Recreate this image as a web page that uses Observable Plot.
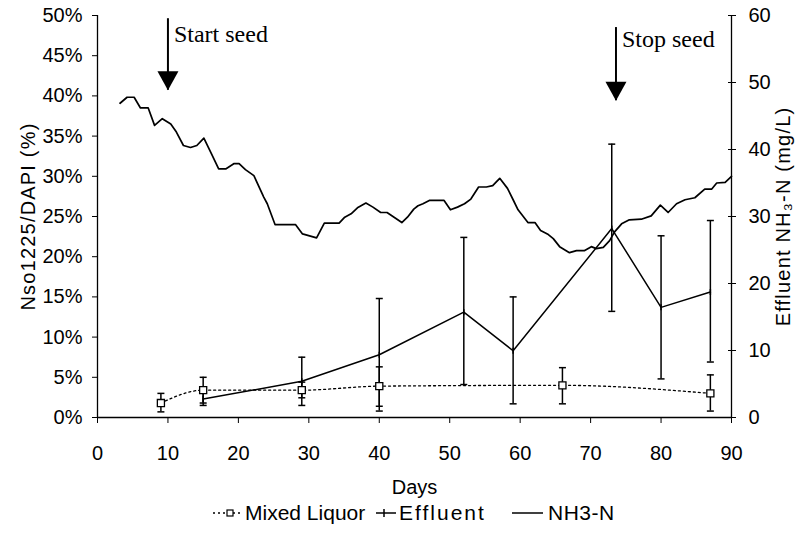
<!DOCTYPE html>
<html><head><meta charset="utf-8">
<script src="https://cdn.jsdelivr.net/npm/d3@7"></script>
<script src="https://cdn.jsdelivr.net/npm/@observablehq/plot@0.6"></script>
<style>
html,body{margin:0;padding:0;background:#fff;overflow:hidden;}
#wrap{position:relative;width:797px;height:534px;}
#legend{position:absolute;top:501px;left:0;width:797px;height:24px;font-family:"Liberation Sans",Arial,sans-serif;font-size:21px;color:#000;}
#legend .item{position:absolute;top:0;height:24px;display:flex;align-items:center;white-space:nowrap;}
</style></head><body><div id="wrap"><div id="chart"></div><div id="legend"></div></div>
<script>
// NH3-N (mg/L, right axis)
const nh3Days = [3.2,4.2,5.2,6.1,7.2,8.1,9.2,10.4,11.2,12.2,13.2,14.1,15.1,16.2,17.2,18.2,19.4,20.1,21.0,22.2,23.6,24.1,25.2,26.3,28.1,29.1,30.1,31.1,32.2,33.2,34.3,35.1,36.0,36.9,38.1,39.1,40.2,41.1,42.1,43.2,44.0,44.9,45.5,46.2,47.1,48.1,49.2,50.1,51.1,52.1,53.0,54.1,55.2,56.1,57.1,58.2,59.0,59.7,61.1,62.1,62.9,64.0,64.7,65.6,67.0,68.0,69.1,70.1,70.8,71.8,72.7,73.4,74.4,75.5,77.2,78.6,79.9,81.0,82.2,83.4,84.8,86.2,87.2,87.9,89.1,90.0];
const nh3Values = [46.9,47.8,47.8,46.2,46.2,43.6,44.6,43.8,42.6,40.6,40.3,40.6,41.7,39.3,37.1,37.1,37.9,37.9,37.0,36.1,32.9,31.9,28.8,28.8,28.8,27.4,27.1,26.8,29.0,29.0,29.0,29.9,30.4,31.3,32.0,31.4,30.6,30.6,29.9,29.1,29.9,31.1,31.6,31.9,32.4,32.4,32.4,31.0,31.4,31.9,32.6,34.4,34.4,34.6,35.7,34.2,32.5,31.0,29.1,29.1,27.9,27.3,26.7,25.5,24.6,24.9,24.9,25.5,25.2,25.4,26.4,27.7,28.9,29.5,29.6,30.1,31.7,30.6,31.9,32.5,32.8,34.1,34.1,35.0,35.1,36.0];
// Effluent Nso1225/DAPI (%)
const effDays = [15,29,40,52,59,73,80,87];
const effValues = [2.3,4.5,7.8,13.1,8.3,23.5,13.7,15.6];
const effLow = [1.5,1.5,0.8,4.1,1.7,13.2,4.8,6.9];
const effHigh = [3.2,7.5,14.8,22.4,15.0,34.0,22.6,24.5];
// Mixed Liquor Nso1225/DAPI (%)
const mlDays = [9,15,29,40,66,87];
const mlValues = [1.8,3.4,3.4,3.9,4.0,3.0];
const mlLow = [0.7,1.8,2.45,1.4,1.7,0.8];
const mlHigh = [3.0,5.0,4.4,6.3,6.2,5.3];
// Annotations (day, arrow top %, arrow tip %, label level %)
const annLabels = ["Start seed","Stop seed"];
const annDays = [10,73.6];
const annTop = [49.6,48.5];
const annTip = [40.7,39.4];
const annLabelAt = [47.6,47.1];
// Ticks
const xTicks = [0,10,20,30,40,50,60,70,80,90];
const leftTicks = [0,5,10,15,20,25,30,35,40,45,50];
const rightTicks = [0,10,20,30,40,50,60];

const k = 50/60; // right axis (mg/L) -> left axis (%)
const nh3 = nh3Days.map((d,i)=>({day:d, y:nh3Values[i]*k}));
const eff = effDays.map((d,i)=>({day:d, v:effValues[i], lo:effLow[i], hi:effHigh[i]}));
const ml = mlDays.map((d,i)=>({day:d, v:mlValues[i], lo:mlLow[i], hi:mlHigh[i]}));
const ann = annDays.map((d,i)=>({day:d, top:annTop[i], tip:annTip[i], at:annLabelAt[i], label:annLabels[i]}));

const cap = {draw(ctx){ctx.moveTo(-3.5,0);ctx.lineTo(3.5,0);}};
const plusMark = {draw(ctx){ctx.moveTo(0,-3);ctx.lineTo(0,3);}};
const head = {draw(ctx){ctx.moveTo(-10.5,-19);ctx.lineTo(10.5,-19);ctx.lineTo(0,0);ctx.closePath();}};

const chart = Plot.plot({
  width: 797, height: 500,
  marginLeft: 97, marginRight: 66, marginTop: 15, marginBottom: 83,
  style: {fontFamily: '"Liberation Sans", Arial, sans-serif', fontSize: "20px", color: "#000", background: "#fff"},
  x: {domain: [0, 90]},
  y: {domain: [0, 50]},
  marks: [
    Plot.axisX({ticks: xTicks, tickSize: 6, tickPadding: 22, label: "Days", labelAnchor: "center", labelArrow: "none", labelOffset: 76}),
    Plot.axisY({anchor: "left", ticks: leftTicks, tickFormat: d => d + "%", tickSize: 5, tickPadding: 10, label: "Nso1225/DAPI (%)", labelAnchor: "center", labelArrow: "none", labelOffset: 77}),
    Plot.axisY({anchor: "right", ticks: rightTicks.map(v => v * k), tickFormat: d => String(Math.round(d / k)), tickSize: 8, dx: -4, tickPadding: 13, label: "Effluent NH₃-N (mg/L)", labelAnchor: "center", labelArrow: "none", labelOffset: 58}),
    Plot.ruleX([0], {strokeWidth: 1.3}),
    Plot.ruleX([90], {strokeWidth: 1.3}),
    Plot.ruleY([0], {strokeWidth: 1.3}),
    Plot.line(nh3, {x: "day", y: "y", stroke: "#000", strokeWidth: 1.7}),
    Plot.line(eff, {x: "day", y: "v", stroke: "#000", strokeWidth: 1.5}),
    Plot.ruleX(eff, {x: "day", y1: "lo", y2: "hi", stroke: "#000", strokeWidth: 1.5}),
    Plot.dot(eff, {x: "day", y: "lo", symbol: cap, stroke: "#000", strokeWidth: 1.5, fill: "none"}),
    Plot.dot(eff, {x: "day", y: "hi", symbol: cap, stroke: "#000", strokeWidth: 1.5, fill: "none"}),
    Plot.dot(eff, {x: "day", y: "v", symbol: plusMark, stroke: "#000", strokeWidth: 1.5, fill: "none"}),
    Plot.line(ml, {x: "day", y: "v", curve: "monotone-x", stroke: "#000", strokeWidth: 1.3, strokeDasharray: "2,3"}),
    Plot.ruleX(ml, {x: "day", y1: "lo", y2: "hi", stroke: "#000", strokeWidth: 1.5}),
    Plot.dot(ml, {x: "day", y: "lo", symbol: cap, stroke: "#000", strokeWidth: 1.5, fill: "none"}),
    Plot.dot(ml, {x: "day", y: "hi", symbol: cap, stroke: "#000", strokeWidth: 1.5, fill: "none"}),
    Plot.dot(ml, {x: "day", y: "v", symbol: "square", r: 4, fill: "#fff", stroke: "#000", strokeWidth: 1.3}),
    Plot.ruleX(ann, {x: "day", y1: "tip", y2: "top", stroke: "#000", strokeWidth: 2}),
    Plot.dot(ann, {x: "day", y: "tip", symbol: head, fill: "#000", stroke: "none"}),
    Plot.text(ann, {x: "day", y: "at", text: "label", textAnchor: "start", lineAnchor: "middle", dx: 6, fontFamily: '"Liberation Serif", "Times New Roman", serif', fontSize: 24, fill: "#000"})
  ]
});
document.getElementById("chart").appendChild(chart);
d3.select(chart).selectAll('g[aria-label="y-axis label"] text').style("letter-spacing", "1.2px");

// Legend
const legend = d3.select("#legend");
function item(left, html){ legend.append("div").attr("class","item").style("left", left+"px").html(html); }
item(213, '<svg width="30" height="24"><line x1="0" x2="30" y1="12" y2="12" stroke="#000" stroke-width="1.3" stroke-dasharray="2,3"/><rect x="14" y="9" width="6" height="6" fill="#fff" stroke="#000" stroke-width="1.2"/></svg>');
item(245, '<span>Mixed Liquor</span>');
item(376, '<svg width="20" height="24"><line x1="0" x2="20" y1="12" y2="12" stroke="#000" stroke-width="1.5"/><line x1="8" x2="8" y1="8" y2="16" stroke="#000" stroke-width="1.5"/></svg>');
item(399, '<span style="letter-spacing:2px">Effluent</span>');
item(512, '<svg width="31" height="24"><line x1="0" x2="31" y1="12" y2="12" stroke="#000" stroke-width="1.5"/></svg>');
item(548, '<span style="letter-spacing:0.5px">NH3-N</span>');
</script></body></html>
